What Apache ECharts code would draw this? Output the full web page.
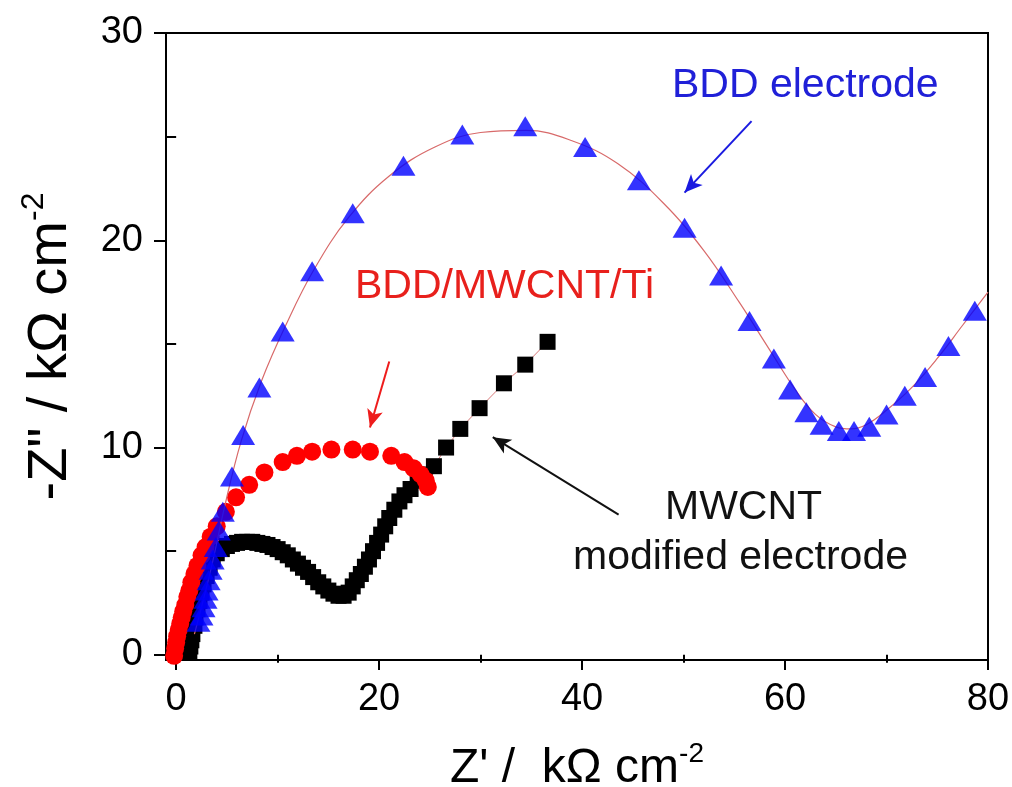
<!DOCTYPE html>
<html>
<head>
<meta charset="utf-8">
<title>Nyquist plots</title>
<script src="https://cdn.jsdelivr.net/npm/echarts@6/dist/echarts.min.js"></script>
<style>
  html, body { margin: 0; padding: 0; background: #ffffff; }
  #chart { width: 1012px; height: 787px; }
</style>
</head>
<body>
<div id="chart"></div>
<script>
// Z' (x) and -Z'' (y), kΩ cm^-2
const mwcntX = [1.3, 1.4, 1.5, 1.6, 1.8, 1.9, 2.1, 2.3, 2.5, 2.7, 3.0, 3.3, 3.6, 4.0, 4.5,
  5.0, 5.5, 6.0, 6.5, 7.0, 7.5, 8.0, 8.5, 9.0, 9.5, 10.0, 10.5, 11.0, 11.5, 12.0, 12.5,
  13.0, 13.5, 14.0, 14.5, 15.0, 15.5, 16.0, 16.5, 17.0, 17.4, 17.8, 18.2, 18.6, 19.0,
  19.4, 19.8, 20.2, 20.6, 21.0, 21.5, 22.0, 22.5, 23.1, 23.8, 24.5, 25.4, 26.6, 28.0,
  29.9, 32.3, 34.4, 36.6];
const mwcntY = [0.1, 0.4, 0.7, 1.0, 1.4, 1.8, 2.2, 2.6, 3.0, 3.4, 3.8, 4.2, 4.6, 4.9, 5.1,
  5.25, 5.35, 5.4, 5.45, 5.45, 5.45, 5.4, 5.35, 5.3, 5.2, 5.1, 4.95, 4.8, 4.6, 4.4, 4.2,
  4.0, 3.75, 3.5, 3.3, 3.1, 2.95, 2.85, 2.85, 3.0, 3.3, 3.6, 3.9, 4.25, 4.6,
  5.0, 5.4, 5.8, 6.2, 6.6, 7.0, 7.4, 7.7, 8.0, 8.4, 8.7, 9.1, 10.0, 10.9,
  11.9, 13.1, 14.0, 15.1];

const tiX = [-0.2, -0.1, 0.0, 0.1, 0.25, 0.4, 0.55, 0.7, 0.9, 1.1, 1.3, 1.5, 1.8, 2.1, 2.5,
  2.9, 3.4, 4.0, 4.9, 5.9, 7.2, 8.7, 10.5, 11.9, 13.4, 15.3, 17.4, 19.1, 21.2, 22.5,
  23.4, 24.1, 24.6, 24.8];
const tiY = [-0.05, 0.3, 0.6, 0.9, 1.2, 1.5, 1.8, 2.1, 2.4, 2.8, 3.1, 3.5, 3.9, 4.3, 4.8,
  5.2, 5.7, 6.2, 6.9, 7.6, 8.2, 8.8, 9.3, 9.6, 9.8, 9.9, 9.9, 9.8, 9.6, 9.3,
  9.0, 8.7, 8.4, 8.1];

const bddX = [2.2, 2.5, 2.7, 2.9, 3.0, 3.2, 3.4, 3.6, 3.9, 4.2, 4.6, 5.5, 6.6, 8.2, 10.5,
  13.4, 17.4, 22.4, 28.2, 34.4, 40.3, 45.6, 50.1, 53.7, 56.5, 58.9, 60.5, 62.1, 63.6,
  65.3, 66.8, 68.3, 70.0, 71.8, 73.8, 76.1, 78.7];
const bddY = [1.6, 1.9, 2.3, 2.7, 3.1, 3.6, 4.1, 4.6, 5.2, 6.0, 6.9, 8.6, 10.6, 12.9, 15.6,
  18.5, 21.3, 23.6, 25.1, 25.5, 24.5, 22.9, 20.6, 18.3, 16.1, 14.3, 12.8, 11.7, 11.1,
  10.8, 10.8, 11.0, 11.6, 12.5, 13.4, 14.9, 16.6];

// fitted curve for the BDD electrode
const fitX = [1.8, 2.6, 3.6, 4.8, 6.4, 8.4, 10.8, 13.6, 17.0, 21.0, 25.5, 30.0, 34.5, 39.0,
  43.5, 48.0, 52.0, 55.5, 58.5, 61.0, 63.0, 65.0, 66.5, 68.0, 70.0, 72.5, 75.0, 77.5, 80.0];
const fitY = [1.0, 2.5, 4.5, 7.2, 10.3, 13.2, 15.9, 18.6, 21.1, 23.1, 24.5, 25.2, 25.3, 24.8,
  23.7, 21.8, 19.5, 17.0, 14.7, 12.8, 11.6, 11.0, 10.9, 11.1, 11.8, 12.9, 14.3, 15.9, 17.5];

const xMajor = [0, 20, 40, 60, 80];
const xMinor = [10, 30, 50, 70];
const yMajor = [0, 10, 20, 30];
const yMinor = [5, 15, 25];

const pairs = (xs, ys) => xs.map((x, i) => [x, ys[i]]);

const FONT = 'Liberation Sans, Arial, sans-serif';
const TICK_FONT = 38;
const NOTE_FONT = 41;

const chart = echarts.init(document.getElementById('chart'), null, { renderer: 'canvas' });

const xRange = { min: -1, max: 80 };
const yRange = { min: -0.25, max: 30 };

const supStyle = (size, lift) => ({
  fontFamily: FONT, fontSize: size, color: '#000', verticalAlign: 'top', padding: [0, 0, lift, 0]
});

const option = {
  animation: false,
  backgroundColor: '#ffffff',
  grid: {
    left: 166, right: 24, top: 33, bottom: 127,
    containLabel: false,
    outerBoundsMode: 'none',
    show: true, borderColor: '#000', borderWidth: 2, backgroundColor: 'transparent'
  },
  xAxis: [
    {
      type: 'value', ...xRange, position: 'bottom',
      name: "Z' /  kΩ cm{sup|-2}",
      nameLocation: 'middle', nameGap: 80,
      nameTextStyle: {
        fontFamily: FONT, fontSize: 48, color: '#000',
        rich: { sup: supStyle(28, 30) }
      },
      axisLine: { show: true, onZero: false, lineStyle: { color: '#000', width: 2 } },
      axisTick: { show: true, inside: false, length: 10, customValues: xMajor, lineStyle: { color: '#000', width: 2 } },
      axisLabel: { show: true, customValues: xMajor, margin: 21, fontFamily: FONT, fontSize: TICK_FONT, color: '#000' },
      splitLine: { show: false }
    },
    {
      type: 'value', ...xRange, position: 'bottom',
      axisLine: { show: false },
      axisTick: { show: true, inside: false, length: 8, customValues: xMinor, lineStyle: { color: '#000', width: 2 } },
      axisLabel: { show: false },
      splitLine: { show: false }
    }
  ],
  yAxis: [
    {
      type: 'value', ...yRange, position: 'left',
      name: '-Z" / kΩ cm{sup|-2}',
      nameLocation: 'middle', nameGap: 82, nameRotate: 90,
      nameTextStyle: {
        fontFamily: FONT, fontSize: 56, color: '#000',
        rich: { sup: supStyle(32, 34) }
      },
      axisLine: { show: true, onZero: false, lineStyle: { color: '#000', width: 2 } },
      axisTick: { show: true, inside: false, length: 12, customValues: yMajor, lineStyle: { color: '#000', width: 2 } },
      axisLabel: { show: true, customValues: yMajor, margin: 23, fontFamily: FONT, fontSize: TICK_FONT, color: '#000' },
      splitLine: { show: false }
    },
    {
      type: 'value', ...yRange, position: 'left',
      axisLine: { show: false },
      axisTick: { show: true, inside: false, length: 10, customValues: yMinor, lineStyle: { color: '#000', width: 2 } },
      axisLabel: { show: false },
      splitLine: { show: false }
    }
  ],
  series: [
    {
      name: 'MWCNT modified electrode',
      type: 'line',
      data: pairs(mwcntX, mwcntY),
      symbol: 'rect', symbolSize: 16, showSymbol: true,
      itemStyle: { color: '#000000' },
      lineStyle: { color: '#d87a7a', width: 1 },
      z: 2,
      markLine: {
        silent: true, symbol: ['none', 'arrow'], symbolSize: [12, 18],
        label: { show: false },
        lineStyle: { color: '#111111', width: 2, type: 'solid' },
        data: [[{ coord: [43.6, 6.76] }, { coord: [31.2, 10.5] }]]
      }
    },
    {
      name: 'BDD/MWCNT/Ti',
      type: 'line',
      data: pairs(tiX, tiY),
      symbol: 'circle', symbolSize: 18, showSymbol: true,
      itemStyle: { color: '#ff0000' },
      lineStyle: { width: 0 },
      z: 3,
      markLine: {
        silent: true, symbol: ['none', 'arrow'], symbolSize: [12, 18],
        label: { show: false },
        lineStyle: { color: '#ee1c1c', width: 2, type: 'solid' },
        data: [[{ coord: [21.0, 14.15] }, { coord: [19.1, 10.97] }]]
      }
    },
    {
      name: 'BDD fit',
      type: 'line',
      data: pairs(fitX, fitY),
      smooth: 0.4,
      showSymbol: false,
      lineStyle: { color: '#d86a6a', width: 1.2 },
      z: 4
    },
    {
      name: 'BDD electrode',
      type: 'scatter',
      data: pairs(bddX, bddY),
      symbol: 'triangle', symbolSize: [24, 20],
      itemStyle: { color: '#0000ff' },
      z: 5,
      markLine: {
        silent: true, symbol: ['none', 'arrow'], symbolSize: [12, 18],
        label: { show: false },
        lineStyle: { color: '#1a1ae0', width: 2, type: 'solid' },
        data: [[{ coord: [56.7, 25.75] }, { coord: [50.1, 22.3] }]]
      }
    }
  ],
  graphic: [
    { type: 'text', left: 672, top: 65, z: 100,
      style: { text: 'BDD electrode', fontFamily: FONT, fontSize: NOTE_FONT, fill: '#2020d8' } },
    { type: 'text', left: 355, top: 266, z: 100,
      style: { text: 'BDD/MWCNT/Ti', fontFamily: FONT, fontSize: NOTE_FONT, fill: '#e8201c' } },
    { type: 'text', left: 665, top: 487, z: 100,
      style: { text: 'MWCNT', fontFamily: FONT, fontSize: NOTE_FONT, fill: '#111111' } },
    { type: 'text', left: 573, top: 537, z: 100,
      style: { text: 'modified electrode', fontFamily: FONT, fontSize: NOTE_FONT, fill: '#111111' } }
  ]
};

chart.setOption(option);
</script>
</body>
</html>
